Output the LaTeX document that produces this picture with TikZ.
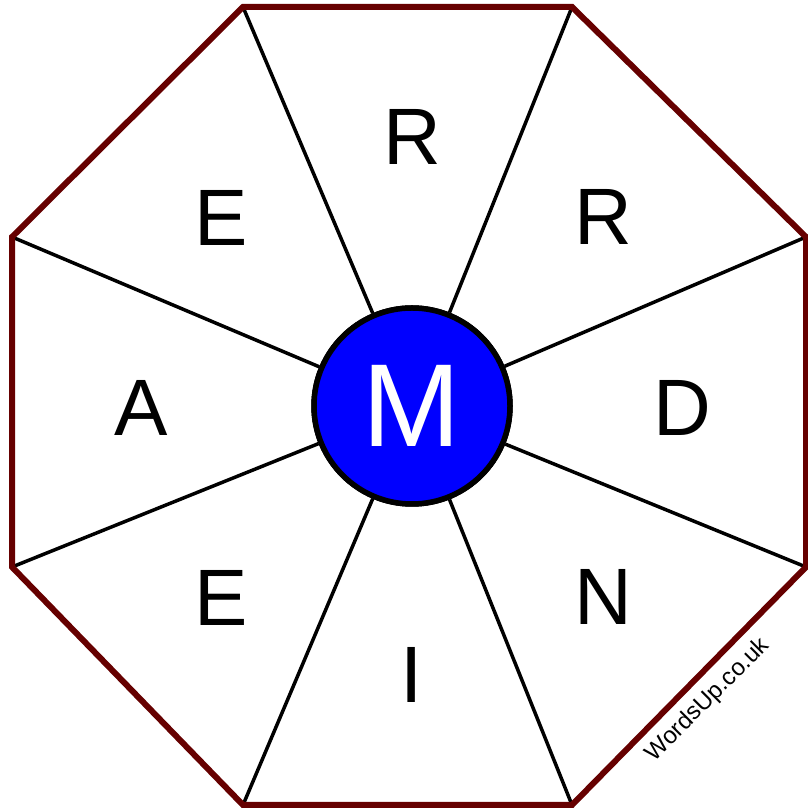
\documentclass[tikz,border=0pt]{standalone}
\usepackage{fontspec}
\setmainfont{Liberation Sans}
\usepackage{tikz}
\usetikzlibrary{positioning}
\definecolor{rim}{HTML}{660000}
\definecolor{hub}{HTML}{0000FF}

\begin{document}
\begin{tikzpicture}[
    x=1pt, y=1pt,
    rimline/.style={
        draw=rim,
        line width=6pt,
        line join=miter
    },
    spoke/.style={
        draw=black,
        line width=3.5pt
    },
    centre/.style={
        circle,
        draw=black,
        line width=5.5pt,
        fill=hub,
        inner sep=0pt,
        minimum size=196pt,
        text=white,
        font=\fontsize{118}{118}\selectfont
    },
    letter/.style={
        inner sep=0pt,
        font=\fontsize{80}{80}\selectfont
    },
    stamp/.style={
        inner sep=0pt,
        rotate=45,
        font=\fontsize{24}{24}\selectfont
    }
]
\useasboundingbox (0,0) rectangle (807,810);

% octagon corners
\coordinate (v1) at (243,803);
\coordinate (v2) at (572,803);
\coordinate (v3) at (806,573);
\coordinate (v4) at (806,243);
\coordinate (v5) at (572,5);
\coordinate (v6) at (243,5);
\coordinate (v7) at (12,243);
\coordinate (v8) at (12,573);

\node[centre] (hub) at (412,404) {};

% spokes
\foreach \v in {v1,v2,v3,v4,v5,v6,v7,v8}
    \draw[spoke] (hub) -- (\v);

\draw[rimline] (v1) -- (v2) -- (v3) -- (v4) -- (v5) -- (v6) -- (v7) -- (v8) -- cycle;

\node[centre] (hubtop) at (hub) {M};

% letters
\node[letter] (top) at (412,673) {R};
\node[letter] (topright) at (603,593) {R};
\node[letter] (right) at (682,402) {D};
\node[letter] (botright) at (603,213) {N};
\node[letter] (bot) at (412,135) {I};
\node[letter] (botleft) at (221,212) {E};
\node[letter] (left) at (141,402) {A};
\node[letter] (topleft) at (221,592) {E};

\node[stamp] (site) at (708,110) {WordsUp.co.uk};

\end{tikzpicture}
\end{document}
